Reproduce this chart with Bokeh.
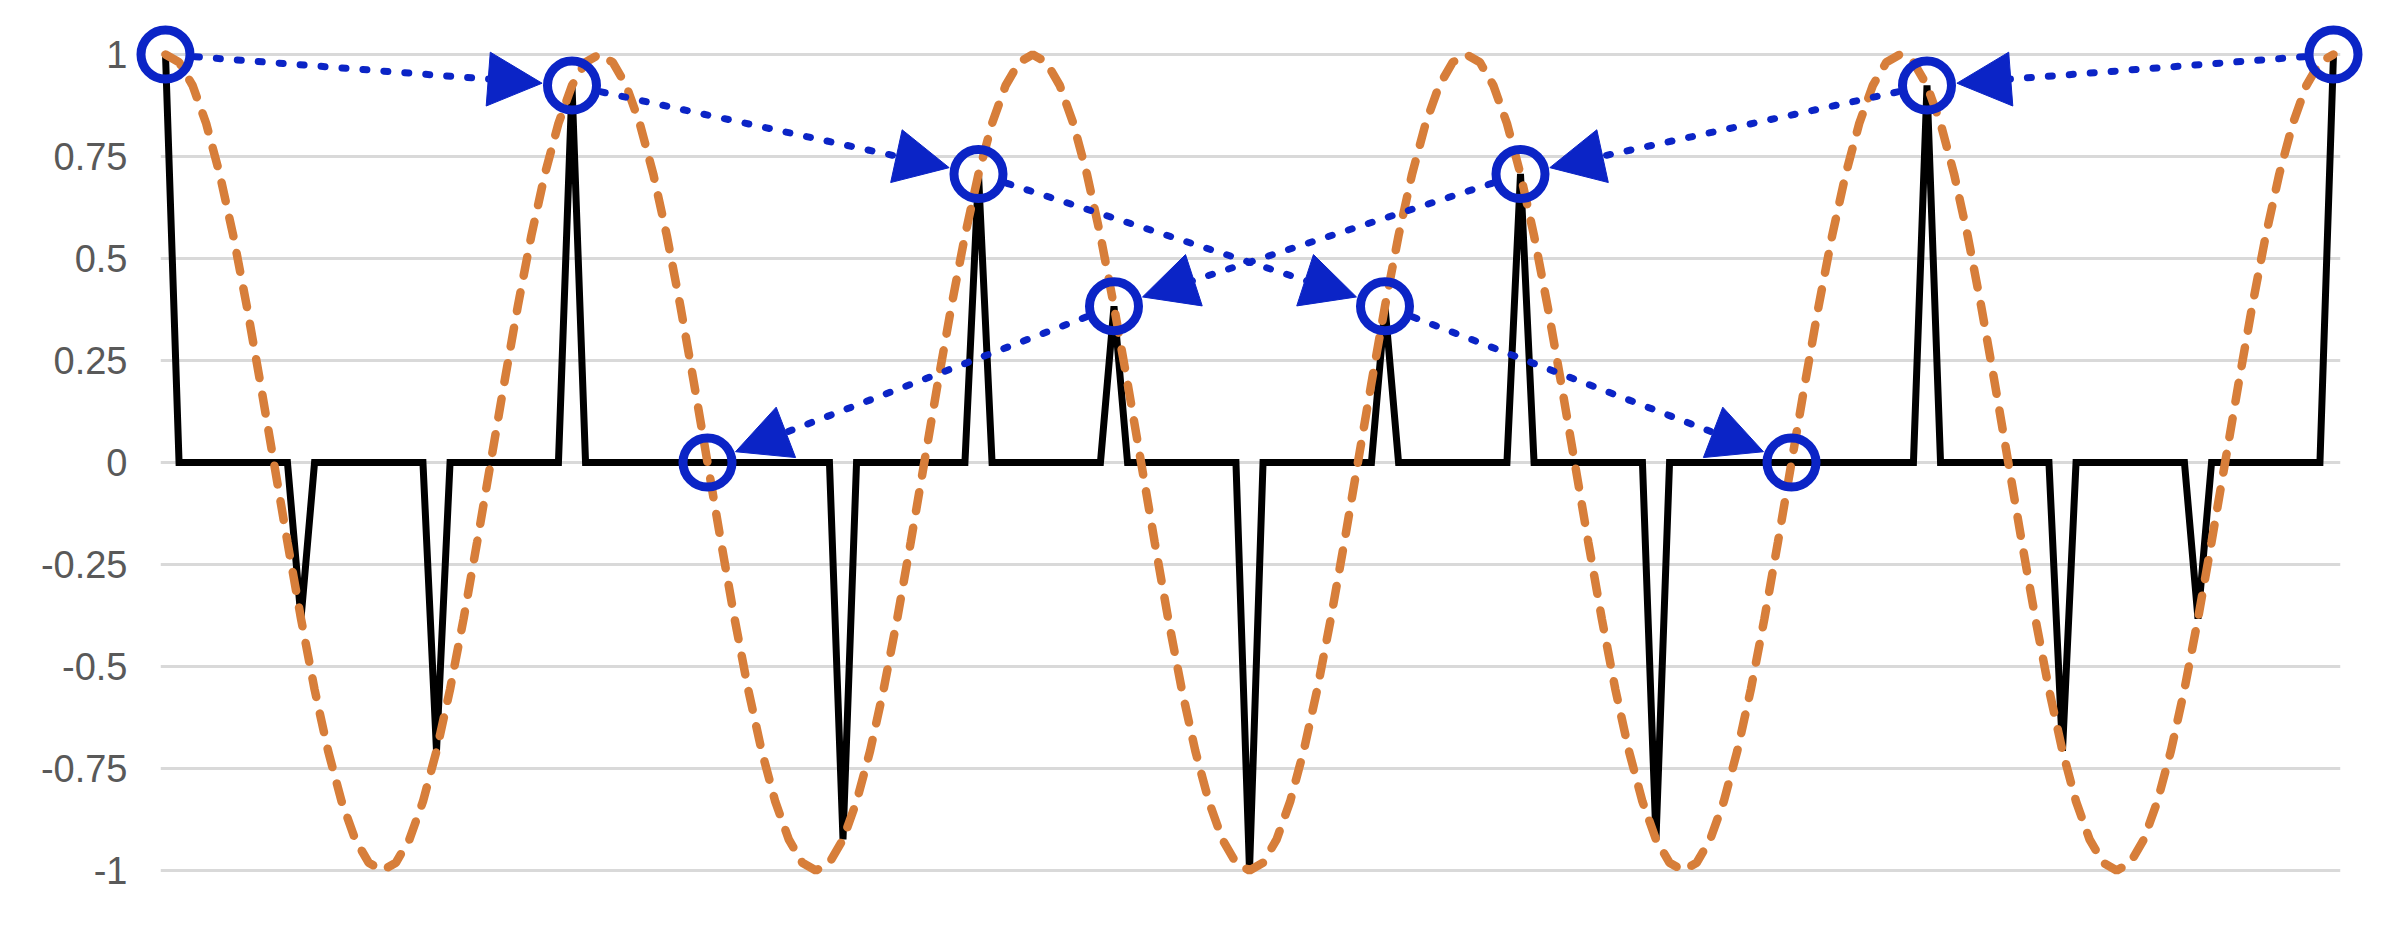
import math
from bokeh.plotting import figure
from bokeh.models import ColumnDataSource, Arrow, NormalHead, FixedTicker, Range1d
from bokeh.embed import file_html
from bokeh.resources import INLINE

# ---------------- data ----------------
# continuous wave read on a fine grid (index 0..160)
cos_wave = [
    1, 0.981, 0.924, 0.831, 0.707, 0.556, 0.383, 0.195, 0, -0.195, -0.383, -0.556, -0.707, -0.831, -0.924, -0.981,
    -1, -0.981, -0.924, -0.831, -0.707, -0.556, -0.383, -0.195, 0, 0.195, 0.383, 0.556, 0.707, 0.831, 0.924, 0.981,
    1, 0.981, 0.924, 0.831, 0.707, 0.556, 0.383, 0.195, 0, -0.195, -0.383, -0.556, -0.707, -0.831, -0.924, -0.981,
    -1, -0.981, -0.924, -0.831, -0.707, -0.556, -0.383, -0.195, 0, 0.195, 0.383, 0.556, 0.707, 0.831, 0.924, 0.981,
    1, 0.981, 0.924, 0.831, 0.707, 0.556, 0.383, 0.195, 0, -0.195, -0.383, -0.556, -0.707, -0.831, -0.924, -0.981,
    -1, -0.981, -0.924, -0.831, -0.707, -0.556, -0.383, -0.195, 0, 0.195, 0.383, 0.556, 0.707, 0.831, 0.924, 0.981,
    1, 0.981, 0.924, 0.831, 0.707, 0.556, 0.383, 0.195, 0, -0.195, -0.383, -0.556, -0.707, -0.831, -0.924, -0.981,
    -1, -0.981, -0.924, -0.831, -0.707, -0.556, -0.383, -0.195, 0, 0.195, 0.383, 0.556, 0.707, 0.831, 0.924, 0.981,
    1, 0.981, 0.924, 0.831, 0.707, 0.556, 0.383, 0.195, 0, -0.195, -0.383, -0.556, -0.707, -0.831, -0.924, -0.981,
    -1, -0.981, -0.924, -0.831, -0.707, -0.556, -0.383, -0.195, 0, 0.195, 0.383, 0.556, 0.707, 0.831, 0.924, 0.981,
    1,
]
wave_x = list(range(len(cos_wave)))

# sampled values (one sample every 10 grid steps)
sample_step = 10
sample_vals = [1, -0.383, -0.707, 0.924, 0, -0.924, 0.707, 0.383, -1,
               0.383, 0.707, -0.924, 0, 0.924, -0.707, -0.383, 1]

# samples highlighted with circles, and the two arrow paths
path_forward = [0, 3, 6, 9, 12]
path_backward = [16, 13, 10, 7, 4]

y_ticks = [-1, -0.75, -0.5, -0.25, 0, 0.25, 0.5, 0.75, 1]
y_tick_labels = ["-1", "-0.75", "-0.5", "-0.25", "0", "0.25", "0.5", "0.75", "1"]

# ---------------- layout ----------------
W, H = 2384, 918
ML, MR, MT, MB = 160, 44, 10, 5
FW, FH = W - ML - MR, H - MT - MB
x0, x1 = -0.369, 160.517
y0, y1 = -1.1054, 1.1078
sx = FW / (x1 - x0)
sy = FH / (y1 - y0)

BLUE = "#0B24C6"
ORANGE = "#D77E3A"

p = figure(width=W, height=H, output_backend="svg", toolbar_location=None,
           x_range=Range1d(x0, x1), y_range=Range1d(y0, y1),
           min_border_left=ML, min_border_right=MR, min_border_top=MT, min_border_bottom=MB)
p.outline_line_color = None
p.background_fill_color = "white"
p.border_fill_color = "white"
p.xaxis.visible = False
p.xgrid.visible = False
p.ygrid.grid_line_color = "#D9D9D9"
p.ygrid.grid_line_width = 3

ax = p.yaxis[0]
ax.ticker = FixedTicker(ticks=y_ticks)
ax.major_label_overrides = {t: lab for t, lab in zip(y_ticks, y_tick_labels)}
ax.axis_line_color = None
ax.major_tick_line_color = None
ax.minor_tick_line_color = None
ax.major_tick_out = 0
ax.major_tick_in = 0
ax.major_label_standoff = 33
ax.major_label_text_font = "Liberation Sans"
ax.major_label_text_font_size = "38px"
ax.major_label_text_color = "#595959"
p.ygrid[0].ticker = FixedTicker(ticks=y_ticks)

# black sampled (spike) line built from the sample values
bx, by = [], []
n_s = len(sample_vals)
for i, v in enumerate(sample_vals):
    k = i * sample_step
    if i > 0:
        bx.append(k - 1); by.append(0)
    bx.append(k); by.append(v)
    if i < n_s - 1:
        bx.append(k + 1); by.append(0)
p.line(bx, by, line_color="black", line_width=7, line_join="miter")

# circles on selected samples
circ_idx = path_forward + path_backward
cx = [i * sample_step for i in circ_idx]
cy = [sample_vals[i] for i in circ_idx]
cr = p.scatter(cx, cy, marker="circle", size=49, fill_color=None,
               line_color=BLUE, line_width=9)
cr.level = "overlay"

# orange dashed continuous wave
p.line(wave_x, cos_wave, line_color=ORANGE, line_width=8.5, line_dash="19 17", line_cap="round")

# dotted arrows between circled samples
R_START, R_END = 30, 30
xs, ys, xe, ye = [], [], [], []
for path in (path_forward, path_backward):
    for a, b in zip(path[:-1], path[1:]):
        xa, ya = a * sample_step, sample_vals[a]
        xb, yb = b * sample_step, sample_vals[b]
        dx, dy = (xb - xa) * sx, (yb - ya) * sy
        L = math.hypot(dx, dy)
        ux, uy = dx / L, dy / L
        xs.append(xa + R_START * ux / sx); ys.append(ya + R_START * uy / sy)
        xe.append(xb - R_END * ux / sx); ye.append(yb - R_END * uy / sy)
asrc = ColumnDataSource(dict(xs=xs, ys=ys, xe=xe, ye=ye))
arr = Arrow(source=asrc, x_start="xs", y_start="ys", x_end="xe", y_end="ye",
            line_color=BLUE, line_width=7, line_dash="4 17", line_cap="round",
            end=NormalHead(size=54, fill_color=BLUE, line_color=BLUE, line_width=1))
p.add_layout(arr)

open("out.html", "w").write(file_html(p, INLINE))
